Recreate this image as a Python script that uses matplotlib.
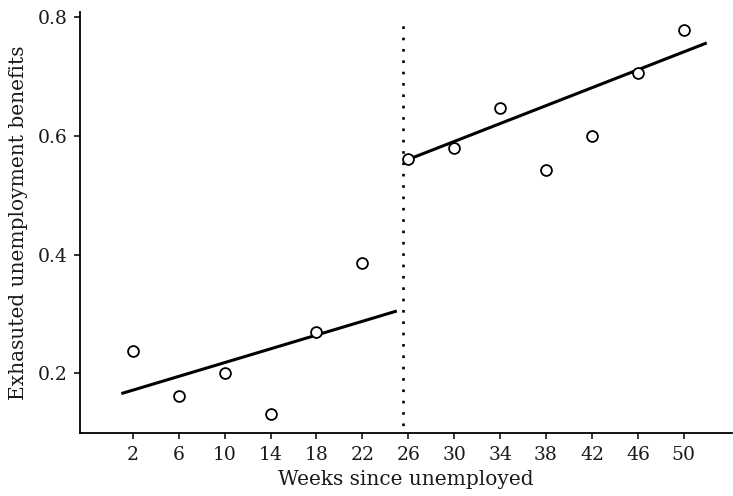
import matplotlib
matplotlib.use("Agg")
import matplotlib.pyplot as plt

# Share of claimants who exhausted benefits, by weeks since unemployed
weeks = [2, 6, 10, 14, 18, 22, 26, 30, 34, 38, 42, 46, 50]
exhausted = [0.238, 0.162, 0.200, 0.132, 0.269, 0.385,
             0.560, 0.579, 0.647, 0.543, 0.599, 0.705, 0.778]

# Fitted lines on either side of the cutoff (endpoints)
left_fit_x = [1.0, 25.0]
left_fit_y = [0.166, 0.305]
right_fit_x = [26.0, 52.0]
right_fit_y = [0.560, 0.756]

cutoff = 25.5
xticks = weeks
yticks = [0.2, 0.4, 0.6, 0.8]

plt.rcParams["font.family"] = ["DejaVu Serif"]

fig = plt.figure(figsize=(7.33, 4.96), dpi=100)
ax = fig.add_axes([80 / 733, 1 - 433 / 496, 652 / 733, 421 / 496])

ax.plot(left_fit_x, left_fit_y, color="black", lw=2.2, solid_capstyle="butt", zorder=2)
ax.plot(right_fit_x, right_fit_y, color="black", lw=2.2, solid_capstyle="butt", zorder=2)
ax.axvline(cutoff, ymax=0.985, color="black", lw=1.9, linestyle=(1.5, (1, 3.3)), zorder=1)
ax.plot(weeks, exhausted, linestyle="none", marker="o", markersize=7.8,
        markerfacecolor="white", markeredgecolor="black", markeredgewidth=1.3, zorder=3)

ax.set_xlim(-2.6, 54.2)
ax.set_ylim(0.0997, 0.808)
ax.set_xticks(xticks)
ax.set_xticklabels([str(w) for w in xticks])
ax.set_yticks(yticks)
ax.set_yticklabels([f"{v:.1f}" for v in yticks])

for side in ("top", "right"):
    ax.spines[side].set_visible(False)
for side in ("left", "bottom"):
    ax.spines[side].set_linewidth(1.3)
ax.tick_params(direction="out", length=4, width=1.1, labelsize=13.5,
               colors="black", labelcolor="#1a1a1a", pad=5)

ax.set_xlabel("Weeks since unemployed", fontsize=14.5, color="#1a1a1a", labelpad=5)
ax.set_ylabel("Exhasuted unemployment benefits", fontsize=14.5, color="#1a1a1a", labelpad=7)

fig.savefig("out.png", dpi=100)
